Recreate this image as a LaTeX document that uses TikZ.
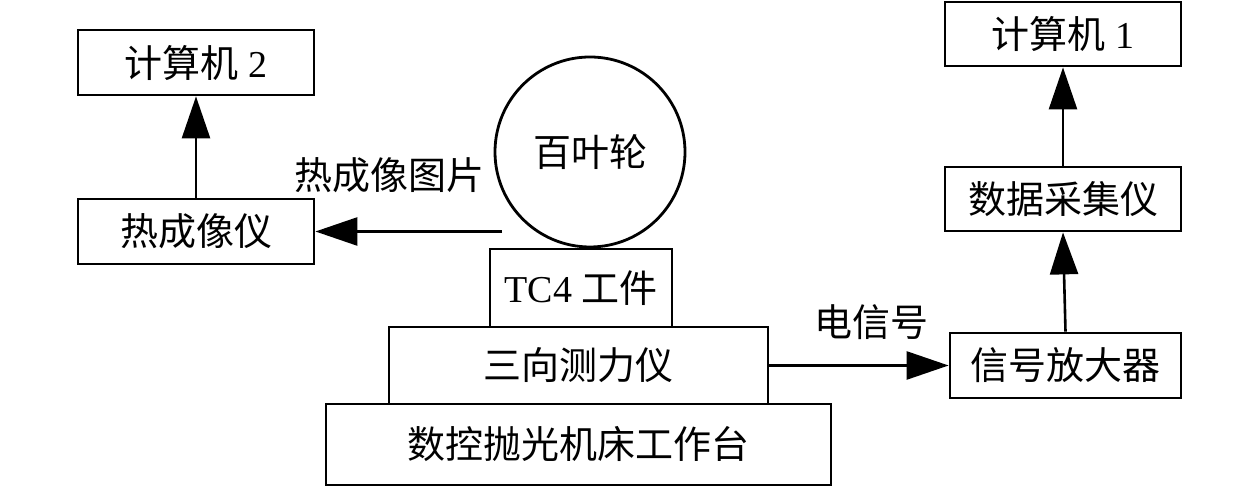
\documentclass[tikz,border=0pt]{standalone}
\usepackage{fontspec}
\setmainfont{Liberation Serif}
\newfontfamily\cjk{Noto Sans CJK SC}
\usetikzlibrary{arrows.meta,positioning}

\begin{document}
\begin{tikzpicture}[x=0.5pt,y=0.5pt,
    box/.style={draw, line width=1.4pt, inner sep=0pt, font=\fontsize{19}{23}\selectfont},
    lbl/.style={font=\fontsize{19}{23}\selectfont},
    link/.style={line width=1.3pt, -{Triangle[length=21pt,width=14pt]}}]
    \useasboundingbox (0,0) rectangle (1259,486);

    % Left branch
    \node[box, minimum width=118pt, minimum height=32.5pt] (comp2) at (196,423.5) {{\cjk 计算机} 2};
    \node[box, minimum width=118pt, minimum height=32.5pt] (thermal) at (196,254.5) {\cjk 热成像仪};

    % Stack under the wheel
    \node[box, circle, minimum size=95pt] (wheel) at (590,334) {\cjk 百叶轮};
    \node[box, minimum width=91pt, minimum height=39pt] (part) at (581,198) {TC4 {\cjk 工件}};
    \node[box, minimum width=189.5pt, minimum height=38.5pt] (dyno) at (578.5,120.5) {\cjk 三向测力仪};
    \node[box, minimum width=252.5pt, minimum height=40.5pt] (table) at (578.5,41.5) {\cjk 数控抛光机床工作台};

    % Right branch
    \node[box, minimum width=118pt, minimum height=32pt] (comp1) at (1063,452) {{\cjk 计算机} 1};
    \node[box, minimum width=118pt, minimum height=32pt] (daq) at (1063,287) {\cjk 数据采集仪};
    \node[box, minimum width=115.5pt, minimum height=32.5pt] (amp) at (1065.5,120.5) {\cjk 信号放大器};

    % Connections
    \coordinate (img) at (502,254.5);
    \draw[link] (img) -- (thermal.east);
    \draw[link] (thermal.north) -- (comp2.south);
    \draw[link] (dyno.east) -- (amp.west);
    \draw[link] (amp.north) -- (daq.south);
    \draw[link] (daq.north) -- (comp1.south);

    % Labels
    \node[lbl] (imglbl) at (389,311) {\cjk 热成像图片};
    \node[lbl] (siglbl) at (871,164) {\cjk 电信号};
\end{tikzpicture}
\end{document}
